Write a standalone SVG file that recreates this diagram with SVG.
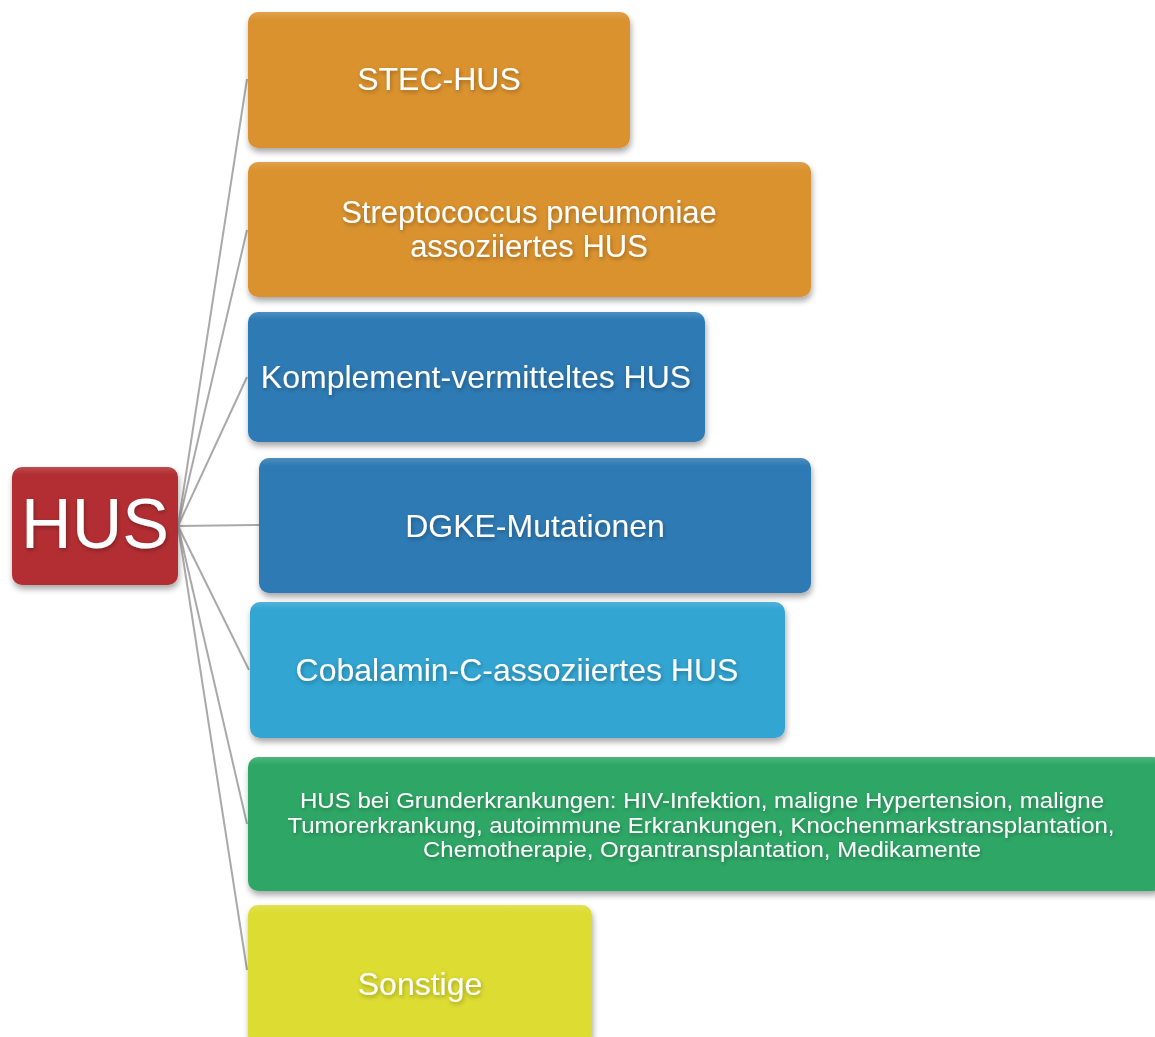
<svg xmlns="http://www.w3.org/2000/svg" width="1155" height="1037" viewBox="0 0 1155 1037">
<defs>
<filter id="sh" x="-10%" y="-10%" width="125%" height="130%">
<feGaussianBlur in="SourceAlpha" stdDeviation="3"/>
<feOffset dx="1" dy="4" result="b"/>
<feComponentTransfer><feFuncA type="linear" slope="0.35"/></feComponentTransfer>
<feMerge><feMergeNode/><feMergeNode in="SourceGraphic"/></feMerge>
</filter>
<filter id="ts" x="-10%" y="-30%" width="120%" height="170%">
<feGaussianBlur in="SourceAlpha" stdDeviation="2"/>
<feOffset dx="1" dy="2"/>
<feComponentTransfer><feFuncA type="linear" slope="0.3"/></feComponentTransfer>
<feMerge><feMergeNode/><feMergeNode in="SourceGraphic"/></feMerge>
</filter>
<linearGradient id="gl" x1="0" y1="0" x2="0" y2="1">
<stop offset="0" stop-color="#fff" stop-opacity="0.15"/>
<stop offset="0.06" stop-color="#fff" stop-opacity="0"/>
<stop offset="1" stop-color="#000" stop-opacity="0"/>
</linearGradient>
</defs>
<style>
.box{filter:url(#sh)}
.t{font-family:"Liberation Sans",Arial,sans-serif;fill:#fff;text-anchor:middle;filter:url(#ts)}
.c{stroke:#a9a9a9;stroke-width:2;fill:none}
</style>
<rect width="1155" height="1037" fill="#fff"/>
<g id="connectors">
<line class="c" x1="178" y1="526" x2="247" y2="79"/>
<line class="c" x1="178" y1="526" x2="247" y2="230"/>
<line class="c" x1="178" y1="526" x2="247" y2="377"/>
<line class="c" x1="178" y1="526" x2="259" y2="525"/>
<line class="c" x1="178" y1="526" x2="249" y2="670"/>
<line class="c" x1="178" y1="526" x2="247" y2="824"/>
<line class="c" x1="178" y1="526" x2="247" y2="970"/>
</g>
<g id="hus">
<rect class="box" x="12" y="467" width="166" height="118" rx="10" fill="#B22F30"/>
<rect x="12" y="467" width="166" height="118" rx="10" fill="url(#gl)"/>
<text class="t" x="95" y="548" font-size="70">HUS</text>
</g>
<g id="stec">
<rect class="box" x="248" y="12" width="382" height="136" rx="10" fill="#DA922E"/>
<rect x="248" y="12" width="382" height="136" rx="10" fill="url(#gl)"/>
<text class="t" x="439" y="90" font-size="32">STEC-HUS</text>
</g>
<g id="strep">
<rect class="box" x="248" y="162" width="563" height="135" rx="10" fill="#DA922E"/>
<rect x="248" y="162" width="563" height="135" rx="10" fill="url(#gl)"/>
<text class="t" x="529" y="223" font-size="31">Streptococcus pneumoniae</text>
<text class="t" x="529" y="257" font-size="31">assoziiertes HUS</text>
</g>
<g id="komplement">
<rect class="box" x="248" y="312" width="457" height="130" rx="10" fill="#2E7AB4"/>
<rect x="248" y="312" width="457" height="130" rx="10" fill="url(#gl)"/>
<text class="t" x="476" y="388" font-size="32">Komplement-vermitteltes HUS</text>
</g>
<g id="dgke">
<rect class="box" x="259" y="458" width="552" height="135" rx="10" fill="#2E7AB4"/>
<rect x="259" y="458" width="552" height="135" rx="10" fill="url(#gl)"/>
<text class="t" x="535" y="537" font-size="32">DGKE-Mutationen</text>
</g>
<g id="cobalamin">
<rect class="box" x="250" y="602" width="535" height="136" rx="10" fill="#33A5D2"/>
<rect x="250" y="602" width="535" height="136" rx="10" fill="url(#gl)"/>
<text class="t" x="517" y="681" font-size="32">Cobalamin-C-assoziiertes HUS</text>
</g>
<g id="grunderkrankungen">
<rect class="box" x="248" y="757" width="915" height="134" rx="10" fill="#2EA766"/>
<rect x="248" y="757" width="915" height="134" rx="10" fill="url(#gl)"/>
<text class="t" x="702" y="808" font-size="22" textLength="804" lengthAdjust="spacingAndGlyphs">HUS bei Grunderkrankungen: HIV-Infektion, maligne Hypertension, maligne</text>
<text class="t" x="701" y="832.5" font-size="22" textLength="827" lengthAdjust="spacingAndGlyphs">Tumorerkrankung, autoimmune Erkrankungen, Knochenmarkstransplantation,</text>
<text class="t" x="702" y="857" font-size="22" textLength="558" lengthAdjust="spacingAndGlyphs">Chemotherapie, Organtransplantation, Medikamente</text>
</g>
<g id="sonstige">
<rect class="box" x="248" y="905" width="344" height="140" rx="10" fill="#DCDC30"/>
<rect x="248" y="905" width="344" height="140" rx="10" fill="url(#gl)"/>
<text class="t" x="420" y="995" font-size="32">Sonstige</text>
</g>
</svg>
